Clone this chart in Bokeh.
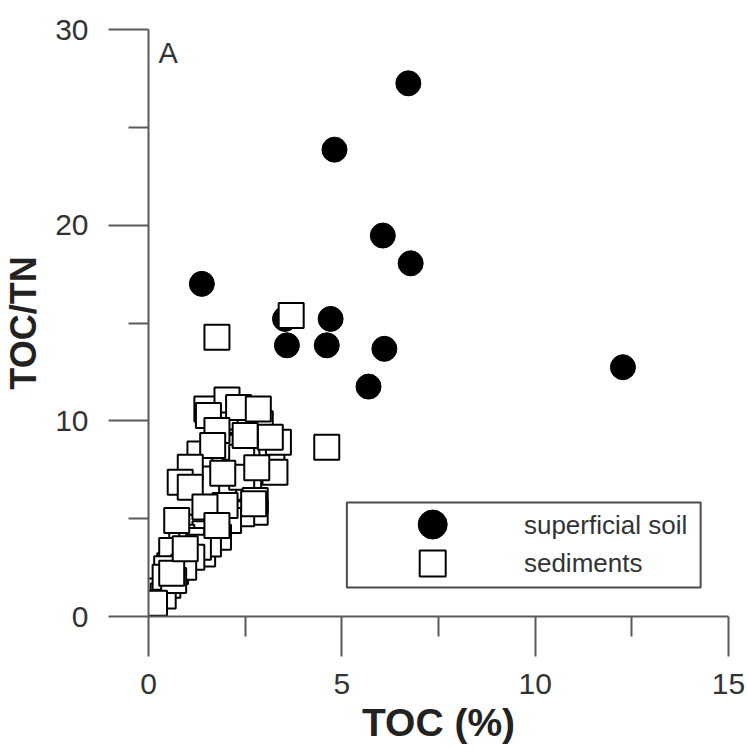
from bokeh.plotting import figure
from bokeh.models import Label, FixedTicker, Range1d
from bokeh.core.properties import value
from bokeh.embed import file_html
from bokeh.resources import INLINE

# Superficial soil samples: TOC (%) and TOC/TN ratio
soil_toc = [1.38, 3.53, 3.58, 4.61, 4.71, 4.81, 5.69, 6.06, 6.10, 6.72, 6.78, 12.27]
soil_ratio = [17.0, 15.21, 13.86, 13.86, 15.21, 23.86, 11.75, 19.47, 13.68, 27.25, 18.05, 12.74]

# Sediment samples (later entries are drawn on top)
sed_toc = [0.30, 0.50, 0.38, 0.55, 0.70, 0.75, 0.85, 0.95, 1.05, 1.15,
           1.20, 1.30, 1.40, 0.90, 1.00,
           2.41, 1.98, 2.89, 1.51, 2.24, 2.41, 1.33, 3.19, 2.15, 2.59,
           2.41, 2.76, 2.76, 2.41, 2.07, 1.21, 1.46, 1.81, 0.86, 1.55,
           1.12, 1.29, 0.78, 1.12, 0.65, 0.60, 0.91, 0.47, 0.43, 0.65,
           2.03, 2.33, 2.84, 1.55, 3.36, 3.15, 2.50, 1.77, 1.66, 3.27,
           2.80, 1.92, 1.08, 0.82, 1.08, 2.72, 1.98, 1.46, 1.77, 0.73,
           0.60, 0.95, 0.155, 1.77, 3.69, 4.61]
sed_ratio = [1.30, 1.60, 1.05, 2.60, 2.30, 2.70, 3.30, 3.60, 3.70, 3.60,
             3.90, 4.30, 3.20, 4.10, 3.40,
             10.02, 10.19, 9.85, 10.61, 8.65, 8.14, 8.31, 7.97, 6.44, 6.61,
             7.12, 5.93, 5.33, 5.25, 4.91, 4.56, 4.23, 4.05, 4.05, 3.71,
             3.88, 3.54, 3.20, 3.03, 2.86, 3.37, 2.52, 2.44, 2.01, 1.84,
             11.07, 10.68, 10.61, 10.27, 8.91, 9.16, 9.25, 9.50, 8.74, 7.37,
             7.60, 7.32, 7.63, 6.86, 6.61, 5.76, 5.67, 5.59, 4.65, 4.91,
             2.21, 3.46, 0.68, 14.27, 15.38, 8.65]

series_labels = ["superficial soil", "sediments"]

x_major = [0, 5, 10, 15]
x_minor = [2.5, 7.5, 12.5]
y_major = [0, 10, 20, 30]
y_minor = [5, 15, 25]

FONT = "Liberation Sans"
AXIS_GREY = "#5a5a5a"
TEXT_GREY = "#333333"

p = figure(frame_width=580, frame_height=587,
           x_range=Range1d(0, 15), y_range=Range1d(0, 30),
           min_border_left=147, min_border_right=21,
           min_border_top=29, min_border_bottom=139,
           output_backend="svg", toolbar_location=None,
           x_axis_label="TOC (%)", y_axis_label="TOC/TN")

p.xgrid.visible = False
p.ygrid.visible = False
p.outline_line_color = None
p.background_fill_color = "white"
p.border_fill_color = "white"

p.xaxis.ticker = FixedTicker(ticks=x_major, minor_ticks=x_minor)
p.yaxis.ticker = FixedTicker(ticks=y_major, minor_ticks=y_minor)

for ax in (p.xaxis[0], p.yaxis[0]):
    ax.axis_line_color = AXIS_GREY
    ax.axis_line_width = 2
    ax.major_tick_line_color = AXIS_GREY
    ax.major_tick_line_width = 2
    ax.minor_tick_line_color = AXIS_GREY
    ax.minor_tick_line_width = 2
    ax.major_tick_out = 40
    ax.major_tick_in = 0
    ax.minor_tick_out = 20
    ax.minor_tick_in = 0
    ax.major_label_text_font = FONT
    ax.major_label_text_font_size = "30px"
    ax.major_label_text_color = TEXT_GREY
    ax.axis_label_text_font = FONT
    ax.axis_label_text_font_style = "bold"
    ax.axis_label_text_color = "#222222"

p.xaxis.axis_label_text_font_size = "39px"
p.yaxis.axis_label_text_font_size = "36px"
p.xaxis.major_label_standoff = 17
p.yaxis.major_label_standoff = 20
p.xaxis.axis_label_standoff = 4
p.yaxis.axis_label_standoff = 8

p.scatter(soil_toc, soil_ratio, marker="circle", size=25,
          fill_color="black", line_color="black", line_width=1)
p.scatter(sed_toc, sed_ratio, marker="square", size=25,
          fill_color="white", line_color="black", line_width=2)

# Legend box in the lower right of the plot area
box_left, box_right, box_bottom, box_top = 5.13, 14.28, 1.48, 5.83
key_x, text_x = 7.35, 9.71
key_y = [4.70, 2.71]
p.quad(left=[box_left], right=[box_right], bottom=[box_bottom], top=[box_top],
       fill_color="white", line_color="#4a4a4a", line_width=2)
p.scatter([key_x], [key_y[0]], marker="circle", size=29,
          fill_color="black", line_color="black", line_width=1)
p.scatter([key_x], [key_y[1]], marker="square", size=26,
          fill_color="white", line_color="black", line_width=2)
p.text(x=[text_x, text_x], y=key_y, text=series_labels,
       text_font=value(FONT), text_font_size="26px", text_color=TEXT_GREY,
       text_baseline="middle", text_align="left")

p.add_layout(Label(x=0, y=30, x_offset=10, y_offset=-7, text="A",
                   text_baseline="top", text_font=FONT,
                   text_font_size="29px", text_color=TEXT_GREY))

open("out.html", "w").write(file_html(p, INLINE))
